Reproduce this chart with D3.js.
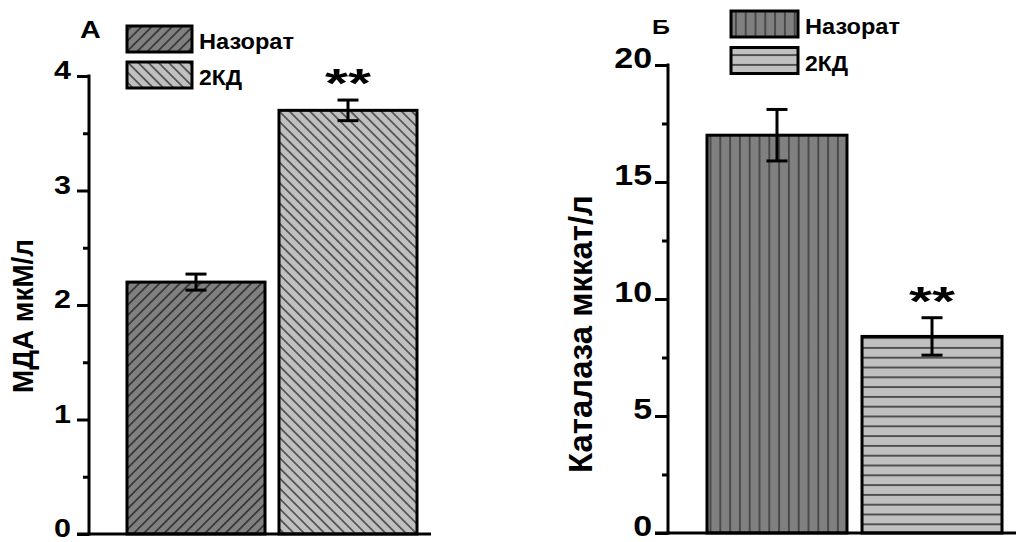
<!DOCTYPE html>
<html>
<head>
<meta charset="utf-8">
<script src="https://cdn.jsdelivr.net/npm/d3@7"></script>
<style>
  html, body { margin: 0; padding: 0; background: #fff; }
  svg { display: block; }
  text { font-family: "Liberation Sans", Arial, sans-serif; font-weight: bold; fill: #000; }
</style>
</head>
<body>
<svg id="chart" width="1016" height="542"></svg>
<script>
// Groups shown in both panels
const categories = ["Назорат", "2КД"];

// Panel А: МДА (мкМ/л)
const mdaMeans = [2.2, 3.7];
const mdaErrors = [0.07, 0.09];
const mdaTicks = [0, 1, 2, 3, 4];
const mdaMinorTicks = [0.5, 1.5, 2.5, 3.5];

// Panel Б: Каталаза (мккат/л)
const catMeans = [17.0, 8.4];
const catErrors = [1.1, 0.8];
const catTicks = [0, 5, 10, 15, 20];
const catMinorTicks = [2.5, 7.5, 12.5, 17.5];

// Significance marks above bars
const mdaMarks = ["", "**"];
const catMarks = ["", "**"];

const svg = d3.select("#chart");
const defs = svg.append("defs");

// Hatch patterns: fill colour, line angle, spacing, line colour
function hatch(id, fill, angle, spacing, stroke, sw) {
  const p = defs.append("pattern")
    .attr("id", id)
    .attr("patternUnits", "userSpaceOnUse")
    .attr("width", spacing)
    .attr("height", spacing)
    .attr("patternTransform", `rotate(${angle})`);
  p.append("rect").attr("width", spacing).attr("height", spacing).attr("fill", fill);
  p.append("line")
    .attr("x1", spacing / 2).attr("y1", 0)
    .attr("x2", spacing / 2).attr("y2", spacing)
    .attr("stroke", stroke).attr("stroke-width", sw);
}
hatch("hA0", "#808080", 45, 7.2, "#000", 1);
hatch("hA1", "#c0c0c0", -45, 7.2, "#000", 1);
hatch("hB0", "#808080", 0, 9.8, "#333", 1.4);
hatch("hB1", "#c0c0c0", 90, 9.8, "#222", 1.4);

function panel(cfg) {
  const g = svg.append("g");
  const y = d3.scaleLinear().domain(cfg.domain).range([cfg.y0, cfg.y1]);
  const x = d3.scaleBand().domain(categories).range(cfg.barRange)
    .paddingInner(cfg.pad).paddingOuter(0);

  // bars
  g.selectAll("rect.bar").data(cfg.means).join("rect")
    .attr("class", "bar")
    .attr("x", (d, i) => x(categories[i]))
    .attr("y", d => y(d))
    .attr("width", x.bandwidth())
    .attr("height", d => y(0) - y(d))
    .attr("fill", (d, i) => `url(#${cfg.patterns[i]})`)
    .attr("stroke", "#000")
    .attr("stroke-width", 3);

  // error bars
  const eb = g.selectAll("g.err").data(cfg.means).join("g").attr("class", "err");
  const cx = i => x(categories[i]) + x.bandwidth() / 2;
  eb.append("line")
    .attr("x1", (d, i) => cx(i)).attr("x2", (d, i) => cx(i))
    .attr("y1", (d, i) => y(d - cfg.errors[i])).attr("y2", (d, i) => y(d + cfg.errors[i]))
    .attr("stroke", "#000").attr("stroke-width", 3);
  [-1, 1].forEach(s => {
    eb.append("line")
      .attr("x1", (d, i) => cx(i) - 10.5).attr("x2", (d, i) => cx(i) + 10.5)
      .attr("y1", (d, i) => y(d + s * cfg.errors[i])).attr("y2", (d, i) => y(d + s * cfg.errors[i]))
      .attr("stroke", "#000").attr("stroke-width", 3);
  });

  // significance marks
  g.selectAll("text.sig").data(cfg.means).join("text")
    .attr("class", "sig")
    .attr("x", (d, i) => cx(i) - 23)
    .attr("y", (d, i) => y(d + cfg.errors[i]) + cfg.sigDy)
    .attr("font-size", 40)
    .attr("textLength", (d, i) => cfg.marks[i] ? 46 : null)
    .attr("lengthAdjust", "spacingAndGlyphs")
    .text((d, i) => cfg.marks[i]);

  // y axis (major ticks with labels, labels widened horizontally)
  const axis = d3.axisLeft(y).tickValues(cfg.ticks).tickSize(cfg.tickLen)
    .tickFormat(d3.format("d"));
  const ag = g.append("g").attr("transform", `translate(${cfg.axisX},0)`).call(axis);
  ag.select(".domain").remove();
  ag.selectAll(".tick line").attr("stroke", "#000").attr("stroke-width", 3);
  ag.selectAll(".tick text")
    .attr("font-size", cfg.tickFont)
    .attr("font-family", "Liberation Sans, Arial, sans-serif")
    .attr("fill", "#000")
    .attr("x", -cfg.labelGap / cfg.tickSx)
    .attr("dy", cfg.tickDy)
    .attr("transform", `scale(${cfg.tickSx},1)`);
  const minor = d3.axisLeft(y).tickValues(cfg.minor).tickSize(6).tickFormat("");
  const mg = g.append("g").attr("transform", `translate(${cfg.axisX},0)`).call(minor);
  mg.select(".domain").remove();
  mg.selectAll(".tick line").attr("stroke", "#000").attr("stroke-width", 3);

  // axis lines
  g.append("line")
    .attr("x1", cfg.axisX).attr("x2", cfg.axisX)
    .attr("y1", y(0) + 1.5).attr("y2", y(cfg.domain[1]) - 1.5)
    .attr("stroke", "#000").attr("stroke-width", 3);
  g.append("line")
    .attr("x1", cfg.axisX - cfg.tickLen).attr("x2", cfg.xEnd)
    .attr("y1", y(0)).attr("y2", y(0))
    .attr("stroke", "#000").attr("stroke-width", 3);

  // y title
  g.append("text")
    .attr("transform", `translate(${cfg.titleX},${cfg.titleY}) rotate(-90)`)
    .attr("text-anchor", "middle")
    .attr("font-size", cfg.titleFont)
    .attr("textLength", cfg.titleLen)
    .attr("lengthAdjust", "spacingAndGlyphs")
    .text(cfg.title);

  // panel letter, slightly widened
  g.append("text")
    .attr("transform", `translate(${cfg.letterX},${cfg.letterY}) scale(1.25,1)`)
    .attr("font-size", cfg.letterFont)
    .text(cfg.letter);

  // legend
  const legLens = [95, 43];
  const lg = g.append("g").attr("transform", `translate(${cfg.legX},${cfg.legY})`);
  categories.forEach((c, i) => {
    lg.append("rect")
      .attr("x", 0).attr("y", i * cfg.legStep)
      .attr("width", cfg.legW).attr("height", 26)
      .attr("fill", `url(#${cfg.patterns[i]})`)
      .attr("stroke", "#000").attr("stroke-width", 3);
    lg.append("text")
      .attr("x", cfg.legW + 7).attr("y", i * cfg.legStep + 23)
      .attr("font-size", 22)
      .attr("textLength", legLens[i])
      .attr("lengthAdjust", "spacingAndGlyphs")
      .text(c);
  });
}

panel({
  domain: [0, 4], y0: 534, y1: 76,
  barRange: [127, 417], pad: 0.092,
  means: mdaMeans, errors: mdaErrors, marks: mdaMarks,
  patterns: ["hA0", "hA1"],
  ticks: mdaTicks, minor: mdaMinorTicks,
  axisX: 89, tickLen: 12, labelGap: 18, tickSx: 1.22, tickFont: 25, tickDy: 2.5, xEnd: 431,
  sigDy: -3,
  title: "МДА мкМ/л", titleX: 33, titleY: 316, titleFont: 29, titleLen: 154,
  letter: "А", letterX: 80, letterY: 38, letterFont: 23,
  legX: 127, legY: 26, legStep: 36, legW: 65
});

panel({
  domain: [0, 20], y0: 533, y1: 65,
  barRange: [707, 1002], pad: 0.097,
  means: catMeans, errors: catErrors, marks: catMarks,
  patterns: ["hB0", "hB1"],
  ticks: catTicks, minor: catMinorTicks,
  axisX: 668, tickLen: 13, labelGap: 16, tickSx: 1.17, tickFont: 29, tickDy: 2.8, xEnd: 1016,
  sigDy: -3,
  title: "Каталаза мккат/л", titleX: 592, titleY: 334, titleFont: 33, titleLen: 278,
  letter: "Б", letterX: 652, letterY: 34, letterFont: 20,
  legX: 731, legY: 11, legStep: 36.5, legW: 67
});
</script>
</body>
</html>
